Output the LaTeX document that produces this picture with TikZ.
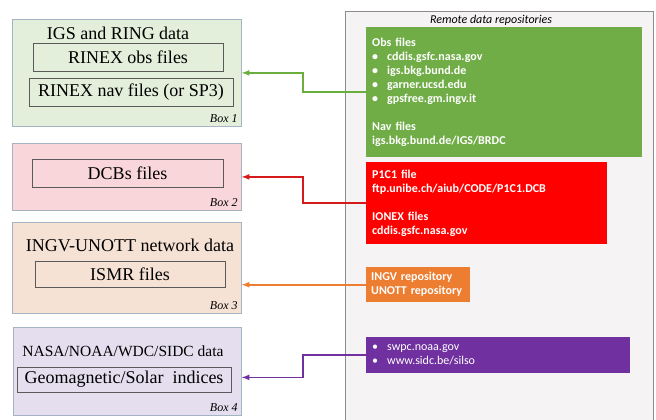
\documentclass[tikz,border=0pt]{standalone}
\usepackage{fontspec}
\setmainfont{Liberation Serif}
\newfontfamily\repofont{Carlito}

\definecolor{boxline}{HTML}{A5B4C4}
\definecolor{fileline}{HTML}{5A5A5A}
\definecolor{igsfill}{HTML}{E3EEDB}
\definecolor{dcbfill}{HTML}{F9D6D9}
\definecolor{ismrfill}{HTML}{F6E2D5}
\definecolor{idxfill}{HTML}{E4DEEF}
\definecolor{panelfill}{HTML}{F6F3F4}
\definecolor{panelline}{HTML}{8C8C8C}
\definecolor{obsgreen}{HTML}{70AD47}
\definecolor{dcbred}{HTML}{FF0000}
\definecolor{ismrorange}{HTML}{ED7D31}
\definecolor{idxpurple}{HTML}{7030A0}
\definecolor{linkgreen}{HTML}{6AAF3E}
\definecolor{linkred}{HTML}{D41A1A}

\tikzset{
  databox/.style={draw=boxline, line width=0.8pt, anchor=north west, minimum width=229pt},
  filebox/.style={draw=fileline, line width=0.6pt, inner sep=0pt, font=\fontsize{18}{21}\selectfont},
  boxtitle/.style={inner sep=0pt, font=\fontsize{18}{21}\selectfont},
  boxtag/.style={anchor=south east, inner sep=4pt, font=\fontsize{12}{14}\selectfont\itshape},
  repobox/.style={anchor=north west, text=white, align=left, inner sep=6pt,
    font=\repofont\fontsize{12}{14}\selectfont\bfseries},
  link/.style={->, >=latex, line width=1.6pt},
}
\newcommand\repoitem{\makebox[15pt][l]{\textbullet}}

\begin{document}
\begin{tikzpicture}[x=1pt, y=-1pt]
\useasboundingbox (0,0) rectangle (656,420);

% remote side
\fill[panelfill] (345,11) rectangle (653,420);
\draw[panelline, line width=0.8pt] (345,420) |- (653,11) -- (653,420);
\node[font=\repofont\itshape\fontsize{12}{14}\selectfont] (remotetitle) at (491,20) {Remote data repositories};

\node[repobox, fill=obsgreen, minimum width=276pt, minimum height=130pt, text width=264pt] (obsrepo) at (366,27)
  {Obs files\\
   \repoitem cddis.gsfc.nasa.gov\\
   \repoitem igs.bkg.bund.de\\
   \repoitem garner.ucsd.edu\\
   \repoitem gpsfree.gm.ingv.it\\[14pt]
   Nav files\\
   igs.bkg.bund.de/IGS/BRDC};
\node[repobox, fill=dcbred, minimum width=241pt, minimum height=82pt, text width=229pt] (dcbrepo) at (366,162)
  {P1C1 file\\
   ftp.unibe.ch/aiub/CODE/P1C1.DCB\\[14pt]
   IONEX files\\
   cddis.gsfc.nasa.gov};
\node[repobox, fill=ismrorange, inner sep=5pt, minimum width=104pt, minimum height=35pt, text width=94pt] (ismrrepo) at (366,267)
  {INGV repository\\
   UNOTT repository};
\node[repobox, fill=idxpurple, minimum width=264pt, minimum height=36pt, text width=252pt] (idxrepo) at (366,337)
  {\mdseries\repoitem swpc.noaa.gov\\
   \mdseries\repoitem www.sidc.be/silso};

% local side
\node[databox, fill=igsfill, minimum height=107pt] (box1) at (12,19) {};
\node[boxtitle] (igstitle) at (118,33) {IGS and RING data};
\node[filebox, minimum width=190pt, minimum height=28pt] (obsfiles) at (128,57) {RINEX obs files};
\node[filebox, minimum width=204pt, minimum height=28pt] (navfiles) at (131,92) {RINEX nav files (or SP3)};
\node[boxtag] (tag1) at (box1.south east) {Box 1};

\node[databox, fill=dcbfill, minimum height=67pt] (box2) at (12,143) {};
\node[filebox, minimum width=191pt, minimum height=28pt] (dcbfiles) at (127.5,173) {DCBs files};
\node[boxtag] (tag2) at (box2.south east) {Box 2};

\node[databox, fill=ismrfill, minimum height=91pt] (box3) at (12,222) {};
\node[boxtitle] (ismrtitle) at (130,245) {INGV-UNOTT network data};
\node[filebox, minimum width=190pt, minimum height=26pt] (ismrfiles) at (130,274) {ISMR files};
\node[boxtag] (tag3) at (box3.south east) {Box 3};

\node[databox, fill=idxfill, minimum width=228pt, minimum height=88pt] (box4) at (13,327) {};
\node[boxtitle, font=\fontsize{15.5}{18}\selectfont] (idxtitle) at (123,351) {NASA/NOAA/WDC/SIDC data};
\node[filebox, minimum width=214pt, minimum height=25pt] (idxfiles) at (124,379.5) {Geomagnetic/Solar\ \ indices};
\node[boxtag] (tag4) at (box4.south east) {Box 4};

% connectors
\coordinate (bend) at (303,0);
\coordinate (tip4) at ([yshift=-6pt]box4.east);
\draw[link, draw=linkgreen] (obsrepo.west) -- (obsrepo.west -| bend) |- (box1.east);
\draw[link, draw=linkred] (dcbrepo.west) -- (dcbrepo.west -| bend) |- (box2.east);
\draw[link, draw=ismrorange] (ismrrepo.west) -- (ismrrepo.west -| box3.east);
\draw[link, draw=idxpurple] (idxrepo.west) -- (idxrepo.west -| bend) |- (tip4);
\end{tikzpicture}
\end{document}
